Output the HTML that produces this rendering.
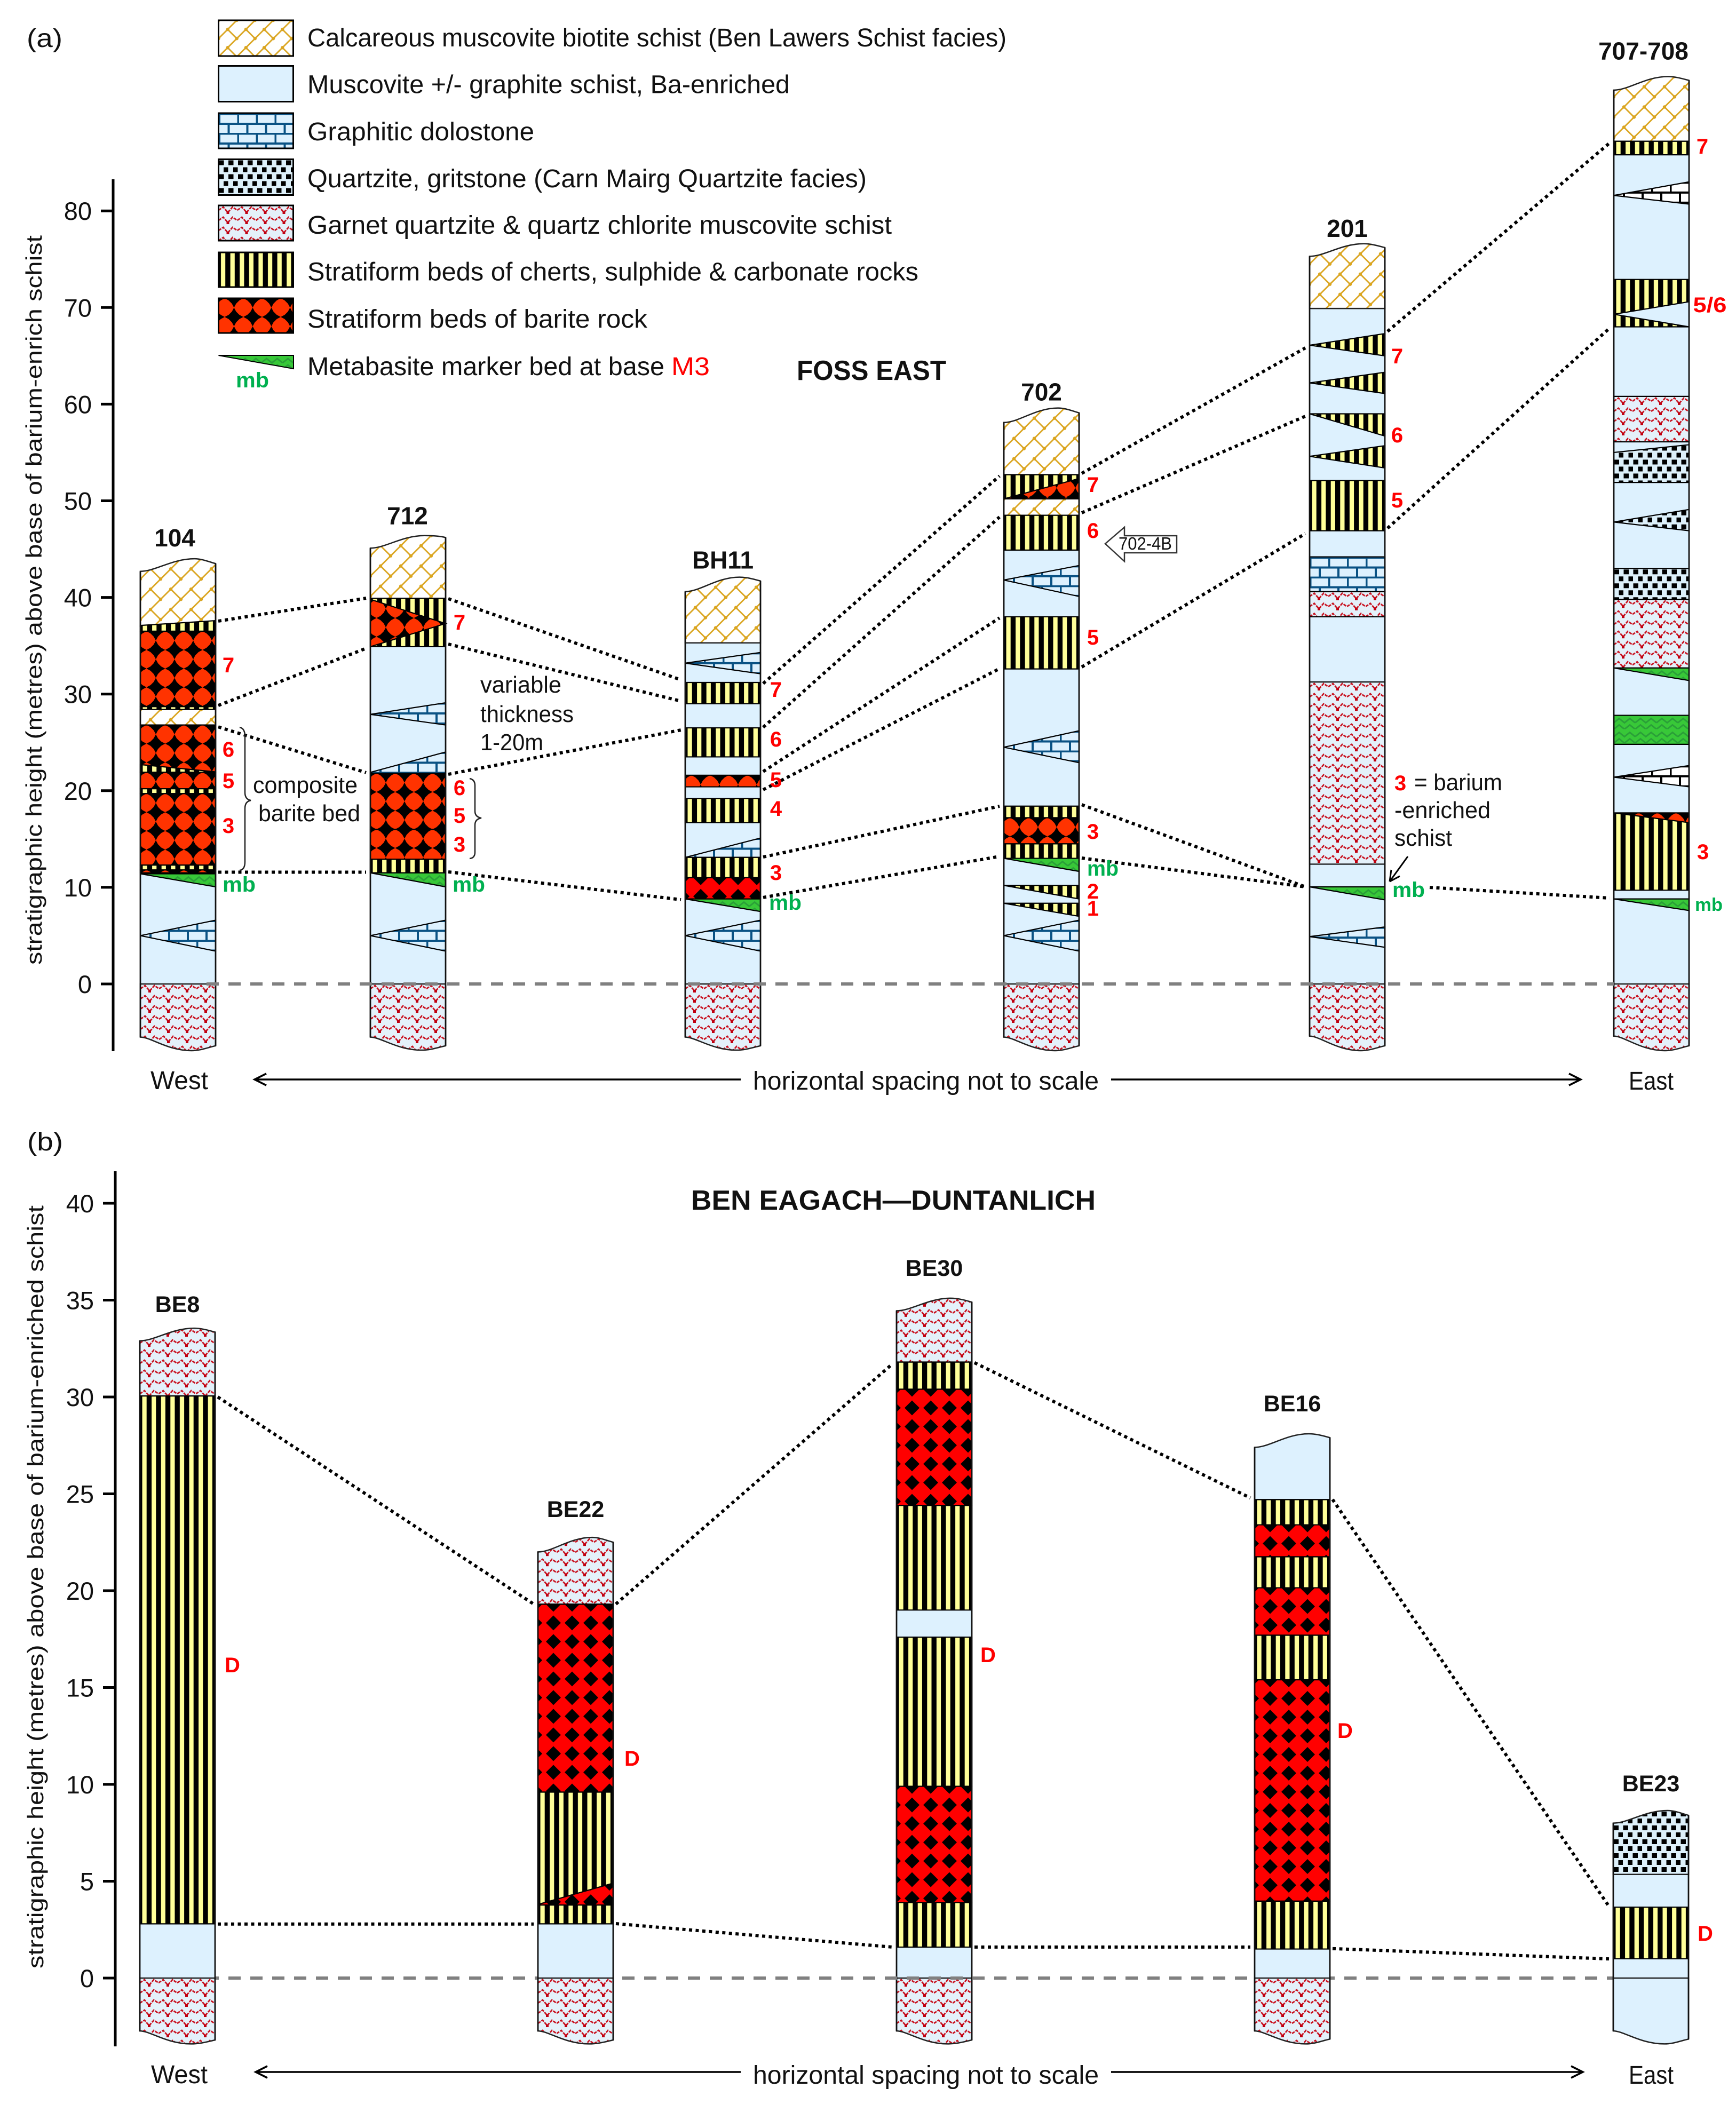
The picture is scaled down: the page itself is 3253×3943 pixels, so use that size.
<!DOCTYPE html>
<html lang="en">
<head>
<meta charset="utf-8">
<title>Stratigraphic columns: Foss East and Ben Eagach to Duntanlich</title>
<style>
html,body{margin:0;padding:0;background:#fff}
svg{display:block}
text{font-family:"Liberation Sans",sans-serif;fill:#111}
.t{font-size:48px}
.tick{font-size:47px}
.num{font-size:40px;font-weight:bold;fill:#f00;text-anchor:middle}
.mb{font-size:40px;font-weight:bold;fill:#00b050}
.d{font-size:40px;font-weight:bold;fill:#f00}
.head{font-size:52px;font-weight:bold}
</style>
</head>
<body>
<svg id="fig" xmlns="http://www.w3.org/2000/svg" width="3253" height="3943" viewBox="0 0 3253 3943">
<defs id="defs"></defs>
<rect x="0" y="0" width="3253" height="3943" fill="#fff"/>

<text class="t" x="50" y="88" textLength="67" lengthAdjust="spacingAndGlyphs">(a)</text>
<text class="t" x="51" y="2156" textLength="67" lengthAdjust="spacingAndGlyphs">(b)</text>

<g>
<rect id="lg0" x="409.5" y="38" width="140" height="67" stroke="#000" stroke-width="3"/>
<rect id="lg1" x="409.5" y="123.5" width="140" height="67" stroke="#000" stroke-width="3"/>
<rect id="lg2" x="409.5" y="212" width="140" height="66" stroke="#000" stroke-width="3"/>
<rect id="lg3" x="409.5" y="298.5" width="140" height="67" stroke="#000" stroke-width="3"/>
<rect id="lg4" x="409.5" y="385" width="140" height="66" stroke="#000" stroke-width="3"/>
<rect id="lg5" x="409.5" y="473" width="140" height="65" stroke="#000" stroke-width="3"/>
<rect id="lg6" x="409.5" y="559" width="140" height="65" stroke="#000" stroke-width="3"/>
<polygon id="lg7" points="409.5,666 550,666 550,691" stroke="#000" stroke-width="2"/>
<text class="t" x="576" y="87" textLength="1310" lengthAdjust="spacingAndGlyphs">Calcareous muscovite biotite schist (Ben Lawers Schist facies)</text>
<text class="t" x="576" y="174.5" textLength="904" lengthAdjust="spacingAndGlyphs">Muscovite +/- graphite schist, Ba-enriched</text>
<text class="t" x="576" y="263" textLength="425" lengthAdjust="spacingAndGlyphs">Graphitic dolostone</text>
<text class="t" x="576" y="351" textLength="1048" lengthAdjust="spacingAndGlyphs">Quartzite, gritstone (Carn Mairg Quartzite facies)</text>
<text class="t" x="576" y="438" textLength="1095" lengthAdjust="spacingAndGlyphs">Garnet quartzite &amp; quartz chlorite muscovite schist</text>
<text class="t" x="576" y="525.5" textLength="1145" lengthAdjust="spacingAndGlyphs">Stratiform beds of cherts, sulphide &amp; carbonate rocks</text>
<text class="t" x="576" y="614" textLength="637" lengthAdjust="spacingAndGlyphs">Stratiform beds of barite rock</text>
<text class="t" x="576" y="703" textLength="669" lengthAdjust="spacingAndGlyphs">Metabasite marker bed at base</text>
<text class="t" x="1258" y="703" textLength="72" lengthAdjust="spacingAndGlyphs" style="fill:#f00">M3</text>
<text class="mb" x="442" y="726" textLength="62" lengthAdjust="spacingAndGlyphs">mb</text>
</g>

<text class="head" x="1493" y="712" textLength="280" lengthAdjust="spacingAndGlyphs">FOSS EAST</text>
<text class="head" x="1295" y="2267" textLength="758" lengthAdjust="spacingAndGlyphs">BEN EAGACH—DUNTANLICH</text>

<text transform="translate(78,1808) rotate(-90)" font-size="42" textLength="1367" lengthAdjust="spacingAndGlyphs">stratigraphic height (metres) above base of barium-enrich schist</text>
<text transform="translate(81,3689) rotate(-90)" font-size="42" textLength="1430" lengthAdjust="spacingAndGlyphs">stratigraphic height (metres) above base of barium-enriched schist</text>

<g id="plotA"></g>
<g id="plotB"></g>

<g>
<text class="num" x="428" y="1260">7</text>
<text class="num" x="428" y="1418">6</text>
<text class="num" x="428" y="1477">5</text>
<text class="num" x="428" y="1561">3</text>
<text class="mb" x="417" y="1671" textLength="62" lengthAdjust="spacingAndGlyphs">mb</text>
<text class="num" x="861" y="1180">7</text>
<text class="num" x="861" y="1490">6</text>
<text class="num" x="861" y="1542">5</text>
<text class="num" x="861" y="1596">3</text>
<text class="mb" x="848" y="1671" textLength="61" lengthAdjust="spacingAndGlyphs">mb</text>
<text class="num" x="1454" y="1306">7</text>
<text class="num" x="1454" y="1399">6</text>
<text class="num" x="1454" y="1475">5</text>
<text class="num" x="1454" y="1529">4</text>
<text class="num" x="1454" y="1649">3</text>
<text class="mb" x="1441" y="1705" textLength="61" lengthAdjust="spacingAndGlyphs">mb</text>
<text class="num" x="2048" y="922">7</text>
<text class="num" x="2048" y="1008">6</text>
<text class="num" x="2048" y="1208">5</text>
<text class="num" x="2048" y="1572">3</text>
<text class="mb" x="2037" y="1641" textLength="59" lengthAdjust="spacingAndGlyphs">mb</text>
<text class="num" x="2048" y="1684">2</text>
<text class="num" x="2048" y="1716">1</text>
<text class="num" x="2618" y="681">7</text>
<text class="num" x="2618" y="829">6</text>
<text class="num" x="2618" y="951">5</text>
<text class="num" x="2624" y="1481">3</text>
<text class="t" x="2650" y="1481" style="font-size:44px" textLength="165" lengthAdjust="spacingAndGlyphs">= barium</text>
<text class="t" x="2613" y="1533" style="font-size:44px" textLength="180" lengthAdjust="spacingAndGlyphs">-enriched</text>
<text class="t" x="2613" y="1585" style="font-size:44px" textLength="108" lengthAdjust="spacingAndGlyphs">schist</text>
<path d="M2638,1605 L2604,1652 M2604,1652 L2607,1630 M2604,1652 L2623,1642" fill="none" stroke="#000" stroke-width="3"/>
<text class="mb" x="2609" y="1681" textLength="61" lengthAdjust="spacingAndGlyphs">mb</text>
<text class="num" x="3190" y="288">7</text>
<text class="num" x="3204" y="585" textLength="63" lengthAdjust="spacingAndGlyphs">5/6</text>
<text class="num" x="3191" y="1610">3</text>
<text class="mb" x="3176" y="1707" style="font-size:34px" textLength="52" lengthAdjust="spacingAndGlyphs">mb</text>

<text class="t" x="474" y="1486" textLength="196" lengthAdjust="spacingAndGlyphs" style="font-size:44px">composite</text>
<text class="t" x="484" y="1539" textLength="191" lengthAdjust="spacingAndGlyphs" style="font-size:44px">barite bed</text>
<path d="M449,1363 Q459,1365 459,1380 L459,1485 Q459,1498 470,1500 Q459,1502 459,1515 L459,1615 Q459,1630 449,1631" fill="none" stroke="#222" stroke-width="2.5"/>
<path d="M880,1459 Q890,1461 890,1472 L890,1520 Q890,1531 902,1533 Q890,1535 890,1546 L890,1597 Q890,1608 880,1609" fill="none" stroke="#222" stroke-width="2.5"/>
<text class="t" x="900" y="1298" textLength="152" lengthAdjust="spacingAndGlyphs" style="font-size:44px">variable</text>
<text class="t" x="900" y="1353" textLength="175" lengthAdjust="spacingAndGlyphs" style="font-size:44px">thickness</text>
<text class="t" x="900" y="1406" textLength="118" lengthAdjust="spacingAndGlyphs" style="font-size:44px">1-20m</text>

<polygon points="2071,1019 2107,988 2107,1004 2205,1004 2205,1036 2107,1036 2107,1052" fill="#fff" stroke="#333" stroke-width="2.5"/>
<text x="2096" y="1030" font-size="33" textLength="100" lengthAdjust="spacingAndGlyphs">702-4B</text>

<text class="t" x="282" y="2041" textLength="108" lengthAdjust="spacingAndGlyphs">West</text>
<text class="t" x="3052" y="2042" textLength="84" lengthAdjust="spacingAndGlyphs">East</text>
<text class="t" x="1411" y="2042" textLength="648" lengthAdjust="spacingAndGlyphs">horizontal spacing not to scale</text>
<path d="M499,2012 L477,2023 L499,2034 M477,2023 L1388,2023" fill="none" stroke="#000" stroke-width="3.5"/>
<path d="M2082,2023 L2962,2023 M2940,2012 L2962,2023 L2940,2034" fill="none" stroke="#000" stroke-width="3.5"/>
</g>

<g>
<text class="d" x="421" y="3134">D</text>
<text class="d" x="1170" y="3309">D</text>
<text class="d" x="1837" y="3115">D</text>
<text class="d" x="2506" y="3257">D</text>
<text class="d" x="3181" y="3637">D</text>
<text class="t" x="283" y="3904" textLength="106" lengthAdjust="spacingAndGlyphs">West</text>
<text class="t" x="3052" y="3905" textLength="84" lengthAdjust="spacingAndGlyphs">East</text>
<text class="t" x="1411" y="3905" textLength="648" lengthAdjust="spacingAndGlyphs">horizontal spacing not to scale</text>
<path d="M501,3872 L479,3883 L501,3894 M479,3883 L1388,3883" fill="none" stroke="#000" stroke-width="3.5"/>
<path d="M2082,3883 L2966,3883 M2944,3872 L2966,3883 L2944,3894" fill="none" stroke="#000" stroke-width="3.5"/>
</g>
</svg>

<script>
/* ---------- Panel (a) data: metres above the base of the barium-enriched schist ---------- */
const sectionsA = ['104', '712', 'BH11', '702', '201', '707-708'];
const tickLabelsA = [0, 10, 20, 30, 40, 50, 60, 70, 80];
/* top wave: left, crest, right */
const topsA = [[42.7, 44.0, 43.5], [45.1, 46.4, 46.2], [40.6, 42.1, 41.7], [58.1, 59.6, 59.1], [75.3, 76.6, 76.2], [92.5, 93.9, 93.5]];
const topBasesA = [37.0, 39.9, 35.3, 52.7, 69.9, 87.2];
const topRocksA = ['calc', 'calc', 'calc', 'calc', 'calc', 'calc'];
/* bottom wave: left, trough, right */
const bottomsA = [[-5.5, -6.9, -6.4], [-5.5, -6.85, -6.4], [-5.5, -6.85, -6.4], [-5.5, -6.9, -6.4], [-5.4, -6.9, -6.4], [-5.4, -6.9, -6.4]];
const bottomRocksA = ['garnet', 'garnet', 'garnet', 'garnet', 'garnet', 'garnet'];
/* layer: rock, left top, right top, right bottom, left bottom (metres) */
const layers104 = [
  ['stripe', 37.1, 37.6, 36.5, 36.5], ['barite', 36.5, 36.5, 28.7, 28.7], ['stripe', 28.7, 28.7, 28.4, 28.4],
  ['calc', 28.4, 28.4, 26.8, 26.8], ['barite', 26.8, 26.8, 21.9, 21.9], ['stripe', 22.7, 21.95, 21.9, 21.9],
  ['barite', 21.9, 21.9, 20.2, 20.2], ['stripe', 20.2, 20.2, 19.7, 19.7], ['barite', 19.7, 19.7, 12.3, 12.3],
  ['stripe', 12.3, 12.3, 11.8, 11.8], ['barite', 11.8, 11.8, 11.5, 11.5], ['green', 11.4, 11.4, 10.05, 11.4],
  ['dolo', 5.0, 6.6, 3.4, 5.0]
];
const layers712 = [
  ['stripe', 39.9, 39.9, 34.9, 34.9], ['barite', 39.8, 37.3, 37.3, 34.9], ['dolo', 27.9, 29.1, 26.8, 27.9],
  ['dolo', 21.9, 24.0, 21.8, 21.8], ['barite', 21.8, 21.8, 16.0, 16.0], ['barite', 16.0, 16.0, 12.9, 12.9],
  ['stripe', 12.9, 12.9, 11.5, 11.5], ['green', 11.5, 11.5, 10.05, 11.5], ['dolo', 5.0, 6.6, 3.4, 5.0]
];
const layersBH11 = [
  ['dolo', 33.2, 34.3, 32.1, 33.2], ['stripe', 31.2, 31.2, 29.0, 29.0], ['stripe', 26.5, 26.5, 23.5, 23.5],
  ['barite', 21.6, 21.6, 20.4, 20.4], ['stripe', 19.2, 19.2, 16.7, 16.7], ['dolo', 13.1, 15.1, 13.1, 13.1],
  ['stripe', 13.1, 13.1, 11.0, 11.0], ['bariteRed', 11.0, 11.0, 8.8, 8.8], ['green', 8.8, 8.8, 7.5, 8.8],
  ['dolo', 5.0, 6.6, 3.4, 5.0]
];
const layers702 = [
  ['stripe', 52.7, 52.7, 50.2, 50.2], ['barite', 50.2, 52.3, 50.2, 50.2], ['calc', 50.2, 50.2, 48.5, 48.5],
  ['stripe', 48.5, 48.5, 44.9, 44.9], ['dolo', 41.8, 43.3, 40.1, 41.8], ['stripe', 38.0, 38.0, 32.6, 32.6],
  ['dolo', 24.5, 26.2, 22.9, 24.5], ['stripe', 18.4, 18.4, 17.2, 17.2], ['barite', 17.2, 17.2, 14.5, 14.5],
  ['stripe', 14.5, 14.5, 13.0, 13.0], ['green', 13.0, 13.0, 11.65, 13.0], ['stripe', 10.2, 10.2, 8.8, 10.2],
  ['stripe', 8.35, 8.35, 7.0, 8.35], ['dolo', 5.0, 6.6, 3.4, 5.0]
];
const layers201 = [
  ['stripe', 66.1, 67.3, 65.0, 66.1], ['stripe', 62.2, 63.3, 61.1, 62.2], ['stripe', 59.0, 59.0, 56.7, 59.0],
  ['stripe', 54.6, 55.7, 53.4, 54.6], ['stripe', 52.1, 52.1, 46.9, 46.9], ['dolo', 44.2, 44.2, 40.6, 40.6],
  ['garnet', 40.6, 40.6, 38.0, 38.0], ['garnet', 31.25, 31.25, 12.4, 12.4], ['green', 10.05, 10.05, 8.7, 10.05],
  ['dolo', 4.9, 5.9, 3.8, 4.9]
];
const layers707 = [
  ['stripe', 87.2, 87.2, 85.8, 85.8], ['doloWhite', 81.6, 83.0, 80.7, 81.6], ['stripe', 72.9, 72.9, 70.6, 69.3],
  ['stripe', 69.3, 68.0, 68.0, 68.0], ['garnet', 60.8, 60.8, 56.1, 56.1], ['quartz', 55.0, 55.8, 51.9, 51.9],
  ['quartz', 47.8, 49.1, 46.9, 47.8], ['quartz', 43.0, 43.0, 39.8, 39.8], ['garnet', 39.8, 39.8, 32.7, 32.7],
  ['green', 32.7, 32.7, 31.4, 32.7], ['green', 27.8, 27.8, 24.8, 24.8], ['doloWhite', 21.4, 22.6, 20.4, 21.4],
  ['stripe', 17.7, 17.7, 9.7, 9.7], ['barite', 17.7, 17.7, 16.7, 17.7], ['green', 8.8, 8.8, 7.6, 8.8]
];
const layersA = [layers104, layers712, layersBH11, layers702, layers201, layers707];
/* correlation: from section, metres, to section, metres, starts clear of the mb label */
const correlationsA = [
  [0, 37.55, 1, 39.92], [0, 28.82, 1, 34.73], [0, 26.6, 1, 21.87], [0, 11.57, 1, 11.57],
  [1, 39.87, 2, 31.47], [1, 35.17, 2, 29.27], [1, 21.7, 2, 26.28], [1, 11.6, 2, 8.72],
  [2, 31.09, 3, 52.57], [2, 26.56, 3, 48.32], [2, 21.98, 3, 37.88], [2, 20.1, 3, 32.63], [2, 13.14, 3, 18.39], [2, 8.95, 3, 13.2],
  [3, 52.84, 4, 65.82], [3, 48.76, 4, 58.75], [3, 32.8, 4, 46.6], [3, 18.55, 4, 10.05], [3, 13.03, 4, 10.05],
  [4, 67.53, 5, 87.02], [4, 47.16, 5, 67.86], [4, 9.99, 5, 8.89, true]
];

/* ---------- Panel (b) data ---------- */
const sectionsB = ['BE8', 'BE22', 'BE30', 'BE16', 'BE23'];
const tickLabelsB = [0, 5, 10, 15, 20, 25, 30, 35, 40];
const topsB = [[32.9, 33.55, 33.35], [22.0, 22.75, 22.5], [34.45, 35.1, 34.9], [27.4, 28.1, 27.9], [8.0, 8.65, 8.4]];
const topBasesB = [30.05, 19.3, 31.8, 24.7, 5.35];
const topRocksB = ['garnet', 'garnet', 'garnet', 'schist', 'quartz'];
const bottomsB = [[-2.73, -3.4, -3.2], [-2.73, -3.4, -3.2], [-2.73, -3.4, -3.2], [-2.73, -3.4, -3.15], [-2.73, -3.4, -3.15]];
const bottomRocksB = ['garnet', 'garnet', 'garnet', 'garnet', 'schist'];
const layersBE8 = [['stripe', 30.05, 30.05, 2.8, 2.8]];
const layersBE22 = [
  ['bariteRed', 19.3, 19.3, 9.6, 9.6], ['stripe', 9.6, 9.6, 2.8, 2.8], ['bariteRed', 3.8, 4.9, 3.77, 3.77]
];
const layersBE30 = [
  ['stripe', 31.8, 31.8, 30.4, 30.4], ['bariteRed', 30.4, 30.4, 24.4, 24.4], ['stripe', 24.4, 24.4, 19.0, 19.0],
  ['stripe', 17.6, 17.6, 9.9, 9.9], ['bariteRed', 9.9, 9.9, 3.9, 3.9], ['stripe', 3.9, 3.9, 1.6, 1.6]
];
const layersBE16 = [
  ['stripe', 24.7, 24.7, 23.4, 23.4], ['bariteRed', 23.4, 23.4, 21.75, 21.75], ['stripe', 21.75, 21.75, 20.15, 20.15],
  ['bariteRed', 20.15, 20.15, 17.7, 17.7], ['stripe', 17.7, 17.7, 15.4, 15.4], ['bariteRed', 15.4, 15.4, 3.97, 3.97],
  ['stripe', 3.97, 3.97, 1.5, 1.5]
];
const layersBE23 = [['stripe', 3.66, 3.66, 1.0, 1.0]];
const layersB = [layersBE8, layersBE22, layersBE30, layersBE16, layersBE23];
const correlationsB = [
  [0, 30.0, 1, 19.31], [1, 19.31, 2, 31.7], [2, 31.77, 3, 24.79], [3, 24.71, 4, 3.7],
  [0, 2.79, 1, 2.79], [1, 2.81, 2, 1.6], [2, 1.6, 3, 1.6], [3, 1.52, 4, 0.99]
];

/* ---------- Axis functions ---------- */
const NS = 'http://www.w3.org/2000/svg';
function yA(m) { return 1844 - 18.11 * m; }
function yB(m) { return 3707 - 36.3 * m; }
function leftA(i) { return [263, 694, 1284, 1881, 2454, 3024][i]; }
function leftB(i) { return [262, 1008, 1680, 2351, 3023][i]; }
const COLUMN_WIDTH = 141;

/* ---------- Rock textures ---------- */
const SCHIST = '#ddf1fe';
let patternCount = 0;
function concaveDiamond(cx, cy) {
  const pts = [[0, -17.5], [4, -10], [10, -4], [17.5, 0], [10, 4], [4, 10], [0, 17.5], [-4, 10], [-10, 4], [-17.5, 0], [-10, -4], [-4, -10]];
  return '<polygon fill="#000" points="' + pts.map(function (p) { return (cx + p[0]) + ',' + (cy + p[1]); }).join(' ') + '"/>';
}
function tileFor(rock, s) {
  if (rock === 'stripe') return { w: 17.6, h: 10, body: '<rect width="17.6" height="10" fill="#000"/><rect x="4.5" width="8.2" height="10" fill="#ffff99"/>' };
  if (rock === 'barite') return { w: 35, h: 35, body: '<rect width="35" height="35" fill="#ff3300"/>' + concaveDiamond(0, 0) + concaveDiamond(35, 0) + concaveDiamond(0, 35) + concaveDiamond(35, 35) };
  if (rock === 'bariteRed') return { w: 35, h: 35, body: '<rect width="35" height="35" fill="#f00"/><path d="M-14,0 L0,-14 L14,0 L0,14Z M21,0 L35,-14 L49,0 L35,14Z M-14,35 L0,21 L14,35 L0,49Z M21,35 L35,21 L49,35 L35,49Z" fill="#000"/>' };
  if (rock === 'calc') {
    const w = 38 * s, h = 38 * s;
    return { w: w, h: h, body: '<rect width="' + w + '" height="' + h + '" fill="#fff"/><path d="M0,' + h + ' L' + w + ',0 M' + w / 2 + ',' + h / 2 + ' L' + w + ',' + h + '" stroke="#daa520" stroke-width="2.8" fill="none"/><circle cx="' + w / 2 + '" cy="' + h / 2 + '" r="3.2" fill="#daa520"/><circle cx="0" cy="' + h + '" r="3.2" fill="#daa520"/><circle cx="' + w + '" cy="' + h + '" r="3.2" fill="#daa520"/><circle cx="0" cy="0" r="3.2" fill="#daa520"/><circle cx="' + w + '" cy="0" r="3.2" fill="#daa520"/>' };
  }
  if (rock === 'dolo' || rock === 'doloWhite') {
    const ink = rock === 'dolo' ? '#0a5284' : '#000';
    const bg = rock === 'dolo' ? SCHIST : '#fff';
    return { w: 35, h: 37, body: '<rect width="35" height="37" fill="' + bg + '"/><path d="M0,1.5 H35 M0,20 H35 M1.5,1.5 V20 M19,20 V37" stroke="' + ink + '" stroke-width="4" fill="none"/>' };
  }
  if (rock === 'quartz') return { w: 18, h: 26, body: '<rect width="18" height="26" fill="#ddf0fa"/><rect x="0.5" y="2" width="9.5" height="9" fill="#000"/><rect x="9.5" y="15" width="9" height="9" fill="#000"/>' };
  if (rock === 'garnet') return { w: 35, h: 19, body: '<rect width="35" height="19" fill="#e4f1fa"/><path d="M0,9 L8.75,3 L17.5,13 L26.25,3 L35,9" stroke="#c8101e" stroke-width="2.8" stroke-dasharray="6 2" fill="none"/><rect x="15" y="11" width="5" height="5" fill="#c00010"/>' };
  if (rock === 'green') return { w: 40, h: 26, body: '<rect width="40" height="26" fill="#38c838"/><path d="M0,14 L10,6 L20,14 L30,6 L40,14" stroke="#2a9f38" stroke-width="3" fill="none"/><path d="M0,26 L10,18 L20,26 L30,18 L40,26" stroke="#2a9f38" stroke-width="3" fill="none"/>' };
  return { w: 10, h: 10, body: '<rect width="10" height="10" fill="' + SCHIST + '"/>' };
}
function fillFor(rock, x, y, s) {
  if (rock === 'schist') return SCHIST;
  const tile = tileFor(rock, s || 1);
  const id = 'rock' + (patternCount++);
  const pat = document.createElementNS(NS, 'pattern');
  pat.setAttribute('id', id);
  pat.setAttribute('patternUnits', 'userSpaceOnUse');
  pat.setAttribute('width', tile.w);
  pat.setAttribute('height', tile.h);
  const dx = rock === 'barite' || rock === 'bariteRed' ? 29 : 0;
  pat.setAttribute('patternTransform', 'translate(' + (x + dx) + ',' + y + ')');
  
  
  pat.innerHTML = tile.body;
  document.getElementById('defs').appendChild(pat);
  return 'url(#' + id + ')';
}

/* ---------- Drawing ---------- */
function drawAxis(host, key, axisX, axisTop, axisBottom, labelX, ticks, y) {
  const line = document.createElementNS(NS, 'line');
  line.setAttribute('x1', axisX);
  line.setAttribute('x2', axisX);
  line.setAttribute('y1', axisTop);
  line.setAttribute('y2', axisBottom);
  line.setAttribute('stroke', '#000');
  line.setAttribute('stroke-width', '5');
  
  
  host.appendChild(line);
  ticks.forEach(function (v) {
    const t = document.createElementNS(NS, 'line');
    t.setAttribute('x1', axisX - 23);
    t.setAttribute('x2', axisX);
    t.setAttribute('y1', y(v));
    t.setAttribute('y2', y(v));
    t.setAttribute('stroke', '#000');
    t.setAttribute('stroke-width', '5');
    
    
    host.appendChild(t);
    const lab = document.createElementNS(NS, 'text');
    lab.setAttribute('x', labelX);
    lab.setAttribute('y', y(v) + 17);
    lab.setAttribute('text-anchor', 'end');
    lab.setAttribute('class', 'tick');
    
    
    lab.textContent = String(v);
    host.appendChild(lab);
  });
}

function drawCorrelations(host, key, list, left, y) {
  list.forEach(function (c, n) {
    const l = document.createElementNS(NS, 'line');
    const startX = left(c[0]) + COLUMN_WIDTH + (c[4] ? 84 : 5);
    l.setAttribute('x1', startX);
    l.setAttribute('y1', y(c[1]));
    l.setAttribute('x2', left(c[2]) - 8);
    l.setAttribute('y2', y(c[3]));
    l.setAttribute('stroke', '#000');
    l.setAttribute('stroke-width', '6');
    l.setAttribute('stroke-dasharray', '6 6.5');
    
    
    host.appendChild(l);
  });
}

function drawSection(host, name, i, left, y, top, topBase, topRock, bottom, bottomRock, layers, titleGap, titleShift, titleSize) {
  const x0 = left(i), x1 = x0 + COLUMN_WIDTH, w = COLUMN_WIDTH;
  const g = document.createElementNS(NS, 'g');
  
  
  host.appendChild(g);

  const body = document.createElementNS(NS, 'rect');
  body.setAttribute('x', x0);
  body.setAttribute('y', y(topBase));
  body.setAttribute('width', w);
  body.setAttribute('height', y(0) - y(topBase));
  body.setAttribute('fill', SCHIST);
  
  
  g.appendChild(body);

  const topLine = 'C' + (x0 + .2 * w) + ',' + y(top[0]) + ' ' + (x0 + .42 * w) + ',' + y(top[1]) + ' ' + (x0 + .72 * w) + ',' + y(top[1]) +
    ' C' + (x0 + .82 * w) + ',' + y(top[1]) + ' ' + (x0 + .92 * w) + ',' + (y(top[2]) - 3) + ' ' + x1 + ',' + y(top[2]);
  const topShape = document.createElementNS(NS, 'path');
  topShape.setAttribute('d', 'M' + x0 + ',' + y(topBase) + ' L' + x0 + ',' + y(top[0]) + ' ' + topLine + ' L' + x1 + ',' + y(topBase) + 'Z');
  topShape.setAttribute('fill', fillFor(topRock, x0, y(top[1])));
  topShape.setAttribute('stroke', '#222');
  topShape.setAttribute('stroke-width', '2.5');
  
  
  g.appendChild(topShape);

  const botLine = 'C' + (x0 + .14 * w) + ',' + y(bottom[0]) + ' ' + (x0 + .36 * w) + ',' + y(bottom[1]) + ' ' + (x0 + .68 * w) + ',' + y(bottom[1]) +
    ' C' + (x0 + .8 * w) + ',' + y(bottom[1]) + ' ' + (x0 + .9 * w) + ',' + (y(bottom[2]) + 3) + ' ' + x1 + ',' + y(bottom[2]);
  const botShape = document.createElementNS(NS, 'path');
  botShape.setAttribute('d', 'M' + x0 + ',' + y(0) + ' L' + x0 + ',' + y(bottom[0]) + ' ' + botLine + ' L' + x1 + ',' + y(0) + 'Z');
  botShape.setAttribute('fill', fillFor(bottomRock, x0, y(0)));
  botShape.setAttribute('stroke', '#222');
  botShape.setAttribute('stroke-width', '2.5');
  
  
  g.appendChild(botShape);

  layers.forEach(function (d, n) {
    const p = document.createElementNS(NS, 'polygon');
    p.setAttribute('points', x0 + ',' + y(d[1]) + ' ' + x1 + ',' + y(d[2]) + ' ' + x1 + ',' + y(d[3]) + ' ' + x0 + ',' + y(d[4]));
    p.setAttribute('fill', fillFor(d[0], x0, Math.min(y(d[1]), y(d[2]))));
    p.setAttribute('stroke', '#000');
    p.setAttribute('stroke-width', '2.2');
    
    
    g.appendChild(p);
  });

  const outline = document.createElementNS(NS, 'path');
  outline.setAttribute('d', 'M' + x0 + ',' + y(top[0]) + ' L' + x0 + ',' + y(bottom[0]) + ' M' + x1 + ',' + y(top[2]) + ' L' + x1 + ',' + y(bottom[2]));
  outline.setAttribute('fill', 'none');
  outline.setAttribute('stroke', '#111');
  outline.setAttribute('stroke-width', '2.8');
  
  
  g.appendChild(outline);

  const title = document.createElementNS(NS, 'text');
  title.setAttribute('x', x0 + w / 2 + titleShift);
  title.setAttribute('y', y(top[1]) - titleGap);
  title.setAttribute('text-anchor', 'middle');
  title.setAttribute('font-size', titleSize);
  title.setAttribute('font-weight', 'bold');
  
  
  title.textContent = name;
  g.appendChild(title);
}

function drawZero(host, key, y, fromX, toX) {
  const z = document.createElementNS(NS, 'line');
  z.setAttribute('x1', fromX);
  z.setAttribute('x2', toX);
  z.setAttribute('y1', y(0));
  z.setAttribute('y2', y(0));
  z.setAttribute('stroke', '#808080');
  z.setAttribute('stroke-width', '6');
  z.setAttribute('stroke-dasharray', '23 18');
  
  
  host.appendChild(z);
}

const plotA = document.getElementById('plotA');
const plotB = document.getElementById('plotB');

drawAxis(plotA, 'a', 212, 336, 1970, 172, tickLabelsA, yA);
drawCorrelations(plotA, 'a', correlationsA, leftA, yA);
sectionsA.forEach(function (name, i) {
  const gaps = [23, 21, 16, 14, 13, 32];
  const shifts = [-6, -1, 0, 0, 0, -15];
  drawSection(plotA, name, i, leftA, yA, topsA[i], topBasesA[i], topRocksA[i], bottomsA[i], bottomRocksA[i], layersA[i], gaps[i], shifts[i], 46);
});
drawZero(plotA, 'a', yA, 387, 3024);

drawAxis(plotB, 'b', 216, 2195, 3835, 176, tickLabelsB, yB);
drawZero(plotB, 'b', yB, 387, 3024);
drawCorrelations(plotB, 'b', correlationsB, leftB, yB);
sectionsB.forEach(function (name, i) {
  const gaps = [30, 38, 42, 42, 36];
  drawSection(plotB, name, i, leftB, yB, topsB[i], topBasesB[i], topRocksB[i], bottomsB[i], bottomRocksB[i], layersB[i], gaps[i], 0, 43);
});
drawZero(plotB, 'b-over-be30', yB, 1658, 1825);

/* legend swatches */
const legendRocks = ['calc', 'schist', 'dolo', 'quartz', 'garnet', 'stripe', 'barite', 'green'];
legendRocks.forEach(function (rock, i) {
  const box = document.getElementById('lg' + i);
  const bx = parseFloat(box.getAttribute('x') || 409.5);
  const by = parseFloat(box.getAttribute('y') || 666);
  box.setAttribute('fill', fillFor(rock, bx, by, rock === 'calc' ? 0.9 : 1));
});
</script>
</body>
</html>
